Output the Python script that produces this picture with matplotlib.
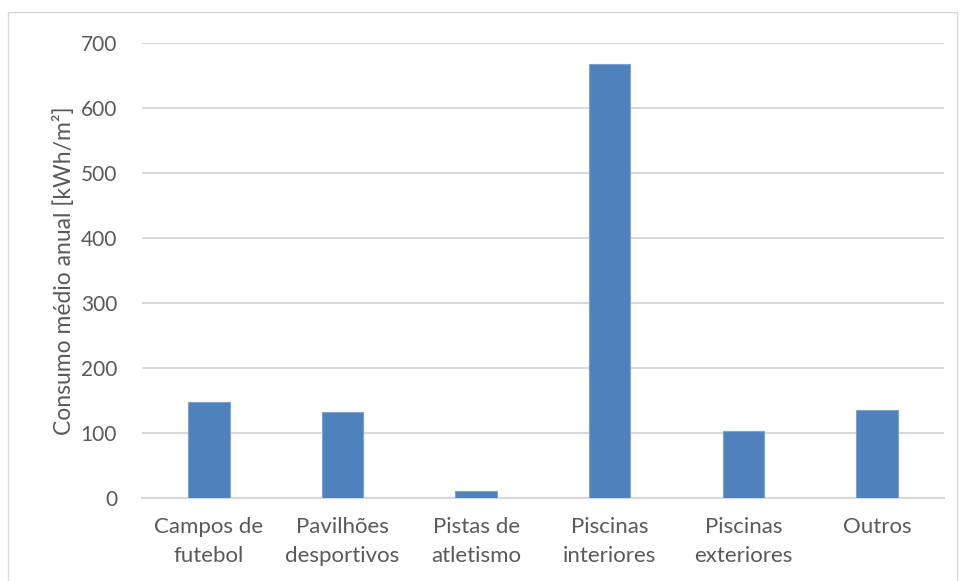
import matplotlib
matplotlib.use("Agg")
import matplotlib.pyplot as plt
from matplotlib.patches import Rectangle

# Average annual consumption per facility type
categories = ["Campos de\nfutebol", "Pavilhões\ndesportivos", "Pistas de\natletismo",
              "Piscinas\ninteriores", "Piscinas\nexteriores", "Outros"]
consumo = [148, 132, 10, 667, 103, 136]
yticks = [0, 100, 200, 300, 400, 500, 600, 700]

text_color = "#595959"
grid_color = "#d9d9d9"
bar_color = "#4f81bd"

plt.rcParams["font.family"] = ["Lato", "DejaVu Sans"]

fig = plt.figure(figsize=(9.6, 5.81), dpi=100)
ax = fig.add_axes([0.148, 0.1429, 0.835, 0.7836])

x = range(len(categories))
ax.bar(x, consumo, width=0.31, color=bar_color, edgecolor="#7fa3d1", linewidth=0.8, zorder=3)

ax.set_xlim(-0.5, len(categories) - 0.5)
ax.set_ylim(0, 700)
ax.set_yticks(yticks)
ax.set_xticks(list(x))
ax.set_xticklabels(categories, fontsize=16, color=text_color, linespacing=1.55)
ax.tick_params(axis="y", labelsize=15, labelcolor=text_color, length=0, pad=18)
ax.tick_params(axis="x", length=0, pad=14)

ax.yaxis.grid(True, color=grid_color, linewidth=1.5, zorder=0)
for side in ["top", "right", "left"]:
    ax.spines[side].set_visible(False)
ax.spines["bottom"].set_color(grid_color)
ax.spines["bottom"].set_linewidth(1.5)

ax.set_ylabel("Consumo médio anual [kWh/m²]", fontsize=16.5, color=text_color, labelpad=4)

# light frame around the chart area
fig.patches.append(Rectangle((8 / 960, -0.05), 949 / 960, 1 - 12 / 581 + 0.05,
                             transform=fig.transFigure, fill=False,
                             edgecolor="#d9d9d9", linewidth=1))

plt.savefig("out.png", dpi=100)
plt.close()
